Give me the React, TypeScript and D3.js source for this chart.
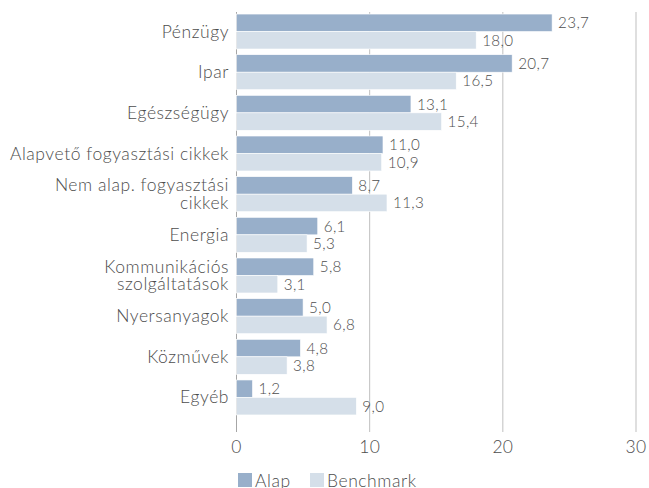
import React from "react";
import * as d3 from "d3";

const categories: string[][] = [
  ["Pénzügy"],
  ["Ipar"],
  ["Egészségügy"],
  ["Alapvető fogyasztási cikkek"],
  ["Nem alap. fogyasztási", "cikkek"],
  ["Energia"],
  ["Kommunikációs", "szolgáltatások"],
  ["Nyersanyagok"],
  ["Közművek"],
  ["Egyéb"],
];
const alap = [23.7, 20.7, 13.1, 11.0, 8.7, 6.1, 5.8, 5.0, 4.8, 1.2];
const benchmark = [18.0, 16.5, 15.4, 10.9, 11.3, 5.3, 3.1, 6.8, 3.8, 9.0];
const seriesNames = ["Alap", "Benchmark"];
const xTicks = [0, 10, 20, 30];

const colors = ["#98afca", "#d5dfe9"];
const textColor = "#4d4d4d";
const font = "Lato, 'Open Sans', sans-serif";

export default function App() {
  const W = 649;
  const H = 488;
  const x = d3.scaleLinear().domain([0, 30]).range([236.5, 636]);
  const keys = categories.map((c) => c.join(" "));
  const y = d3
    .scaleBand<string>()
    .domain(keys)
    .range([11.2, 417.8])
    .paddingInner(0.14)
    .paddingOuter(0.07);
  const sub = d3.scaleBand<number>().domain([0, 1]).range([0, y.bandwidth()]);
  const fmt = (v: number) => d3.format(".1f")(v).replace(".", ",");
  const series = [alap, benchmark];

  return (
    <svg
      width={W}
      height={H}
      style={{ position: "absolute", left: 0, top: 0, background: "#fff" }}
      fontFamily={font}
      fontWeight={300}
    >
      {xTicks.map((t) => (
        <g key={t}>
          <line
            x1={x(t)}
            x2={x(t)}
            y1={12}
            y2={432}
            stroke={t === 0 ? "#a6a6a6" : "#bfbfbf"}
            strokeWidth={1}
          />
          <text
            x={x(t)}
            y={452.5}
            textAnchor="middle"
            fontSize={17.5}
            letterSpacing={0.3}
            fill={textColor}
          >
            {t}
          </text>
        </g>
      ))}
      {categories.map((c, i) => {
        const key = keys[i];
        const y0 = y(key)!;
        const cy = y0 + y.bandwidth() / 2;
        const lh = 17.5;
        const n = c.length;
        return (
          <g key={key}>
            {series.map((s, si) => (
              <g key={si}>
                <rect
                  x={x(0)}
                  y={y0 + sub(si)!}
                  width={x(s[i]) - x(0)}
                  height={sub.bandwidth()}
                  fill={colors[si]}
                  stroke="#fff"
                  strokeWidth={0.6}
                />
                <text
                  x={x(s[i]) + 6}
                  y={y0 + sub(si)! + sub.bandwidth() / 2 + 5.5}
                  fontSize={15.2}
                  letterSpacing={0.35}
                  fill={textColor}
                >
                  {fmt(s[i])}
                </text>
              </g>
            ))}
            {c.map((line, li) => (
              <text
                key={li}
                x={229}
                y={cy + 6 + (li - (n - 1) / 2) * lh}
                textAnchor="end"
                fontSize={17.5}
                letterSpacing={0.55}
                fill={textColor}
              >
                {line}
              </text>
            ))}
          </g>
        );
      })}
      <g>
        <rect x={238} y={473} width={14} height={14} fill={colors[0]} />
        <text x={255} y={486.5} fontSize={17.5} letterSpacing={0.55} fill={textColor}>
          {seriesNames[0]}
        </text>
        <rect x={310} y={473} width={14} height={14} fill={colors[1]} />
        <text x={327} y={486.5} fontSize={17.5} letterSpacing={0.55} fill={textColor}>
          {seriesNames[1]}
        </text>
      </g>
    </svg>
  );
}
